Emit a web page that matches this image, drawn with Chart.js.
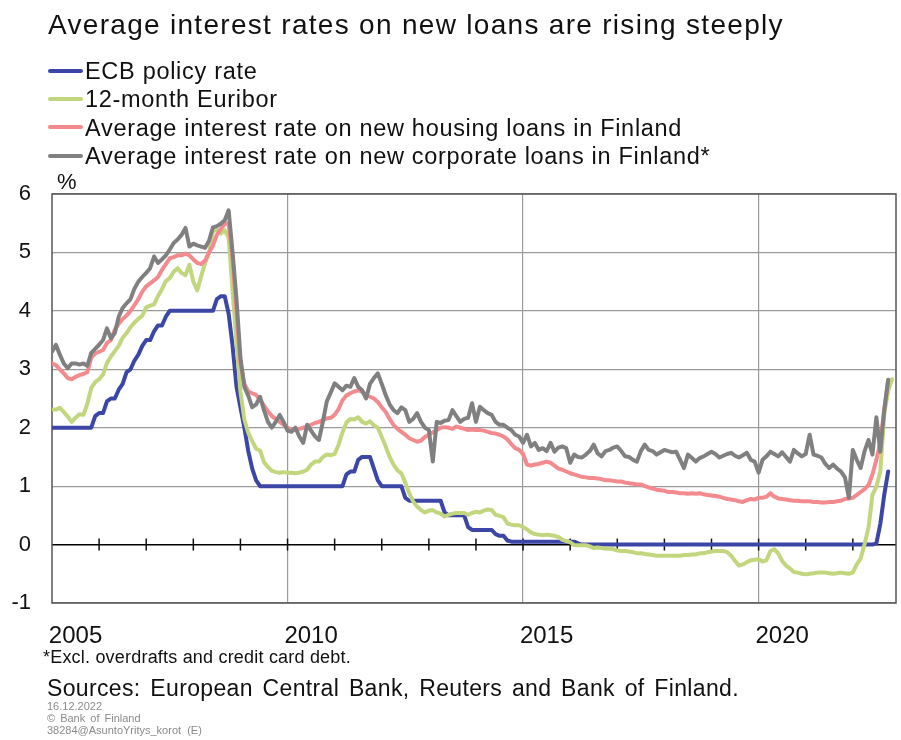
<!DOCTYPE html>
<html>
<head>
<meta charset="utf-8">
<script src="https://cdn.jsdelivr.net/npm/chart.js@4/dist/chart.umd.min.js"></script>
<style>
body { margin: 0; background: #fff; font-family: "Liberation Sans", Arial, sans-serif; color: #111; }
#wrap { position: relative; width: 901px; height: 740px; overflow: hidden; }
#box { position: absolute; left: 0; top: 0; width: 901px; height: 740px; }
.t { position: absolute; white-space: nowrap; line-height: 1; }
.key { position: absolute; left: 48px; width: 35px; height: 4px; border-radius: 2px; }
</style>
</head>
<body>
<div id="wrap">
  <div id="box"><canvas id="rates"></canvas></div>
  <div class="t" style="left:48px;top:11px;font-size:28px;letter-spacing:1.3px;">Average interest rates on new loans are rising steeply</div>
  <div id="legend"></div>
  <div class="t" style="left:57px;top:171px;font-size:22px;">%</div>
  <div class="t" style="left:43px;top:648px;font-size:18px;letter-spacing:0.2px;">*Excl. overdrafts and credit card debt.</div>
  <div class="t" style="left:47px;top:677px;font-size:23px;letter-spacing:0.35px;word-spacing:3px;">Sources: European Central Bank, Reuters and Bank of Finland.</div>
  <div class="t" style="left:47px;top:701px;font-size:11px;color:#8a8a8a;">16.12.2022</div>
  <div class="t" style="left:47px;top:713px;font-size:11px;color:#8a8a8a;word-spacing:2px;">© Bank of Finland</div>
  <div class="t" style="left:47px;top:725px;font-size:11px;color:#8a8a8a;word-spacing:3px;">38284@AsuntoYritys_korot (E)</div>
</div>
<script>
// monthly data, first month = January 2005
var startYear = 2005;
var seriesNames = ['ECB policy rate', '12-month Euribor',
    'Average interest rate on new housing loans in Finland',
    'Average interest rate on new corporate loans in Finland*'];
var seriesColors = ['#3c46a6', '#c2d67e', '#f28a8e', '#808080'];

var ecbRate = [
    2.0, 2.0, 2.0, 2.0, 2.0, 2.0, 2.0, 2.0, 2.0, 2.0, 2.0, 2.2,
    2.25, 2.25, 2.45, 2.5, 2.5, 2.65, 2.75, 2.95, 3.0, 3.15, 3.25, 3.4,
    3.5, 3.5, 3.65, 3.75, 3.75, 3.9, 4.0, 4.0, 4.0, 4.0, 4.0, 4.0,
    4.0, 4.0, 4.0, 4.0, 4.0, 4.0, 4.2, 4.25, 4.25, 3.95, 3.4, 2.7,
    2.35, 2.0, 1.6, 1.3, 1.1, 1.0, 1.0, 1.0, 1.0, 1.0, 1.0, 1.0,
    1.0, 1.0, 1.0, 1.0, 1.0, 1.0, 1.0, 1.0, 1.0, 1.0, 1.0, 1.0,
    1.0, 1.0, 1.0, 1.2, 1.25, 1.25, 1.45, 1.5, 1.5, 1.5, 1.3, 1.1,
    1.0, 1.0, 1.0, 1.0, 1.0, 1.0, 0.8, 0.75, 0.75, 0.75, 0.75, 0.75,
    0.75, 0.75, 0.75, 0.75, 0.55, 0.5, 0.5, 0.5, 0.5, 0.5, 0.3, 0.25,
    0.25, 0.25, 0.25, 0.25, 0.25, 0.18, 0.15, 0.15, 0.07, 0.05, 0.05, 0.05,
    0.05, 0.05, 0.05, 0.05, 0.05, 0.05, 0.05, 0.05, 0.05, 0.05, 0.05, 0.05,
    0.05, 0.05, 0.02, 0, 0, 0, 0, 0, 0, 0, 0, 0,
    0, 0, 0, 0, 0, 0, 0, 0, 0, 0, 0, 0,
    0, 0, 0, 0, 0, 0, 0, 0, 0, 0, 0, 0,
    0, 0, 0, 0, 0, 0, 0, 0, 0, 0, 0, 0,
    0, 0, 0, 0, 0, 0, 0, 0, 0, 0, 0, 0,
    0, 0, 0, 0, 0, 0, 0, 0, 0, 0, 0, 0,
    0, 0, 0, 0, 0, 0, 0.02, 0.35, 0.85, 1.25
];

var euribor12m = [
    2.31, 2.31, 2.34, 2.27, 2.19, 2.10, 2.17, 2.23, 2.22, 2.41, 2.68, 2.78,
    2.83, 2.91, 3.11, 3.22, 3.31, 3.40, 3.54, 3.62, 3.72, 3.80, 3.86, 3.92,
    4.06, 4.09, 4.11, 4.25, 4.37, 4.51, 4.56, 4.67, 4.73, 4.65, 4.61, 4.79,
    4.50, 4.35, 4.59, 4.82, 4.99, 5.36, 5.39, 5.32, 5.38, 5.25, 4.35, 3.45,
    2.62, 2.14, 1.91, 1.77, 1.64, 1.61, 1.41, 1.33, 1.26, 1.24, 1.23, 1.24,
    1.23, 1.23, 1.22, 1.23, 1.25, 1.28, 1.37, 1.42, 1.42, 1.50, 1.54, 1.53,
    1.55, 1.71, 1.92, 2.09, 2.15, 2.14, 2.18, 2.10, 2.07, 2.11, 2.04, 2.00,
    1.84, 1.68, 1.50, 1.37, 1.27, 1.22, 1.06, 0.88, 0.74, 0.65, 0.59, 0.55,
    0.58, 0.59, 0.55, 0.53, 0.48, 0.51, 0.53, 0.54, 0.54, 0.54, 0.51, 0.54,
    0.56, 0.55, 0.58, 0.60, 0.59, 0.51, 0.49, 0.47, 0.36, 0.34, 0.33, 0.33,
    0.30, 0.26, 0.21, 0.18, 0.17, 0.16, 0.17, 0.16, 0.15, 0.13, 0.08, 0.06,
    0.04, -0.01, -0.01, -0.01, -0.01, -0.03, -0.06, -0.05, -0.06, -0.07, -0.07, -0.08,
    -0.10, -0.11, -0.11, -0.12, -0.13, -0.15, -0.15, -0.16, -0.17, -0.18, -0.19, -0.19,
    -0.19, -0.19, -0.19, -0.19, -0.19, -0.18, -0.18, -0.17, -0.17, -0.15, -0.15, -0.13,
    -0.12, -0.11, -0.11, -0.11, -0.13, -0.19, -0.28, -0.36, -0.34, -0.30, -0.27, -0.26,
    -0.25, -0.29, -0.27, -0.11, -0.08, -0.15, -0.28, -0.36, -0.41, -0.47, -0.48, -0.50,
    -0.51, -0.50, -0.49, -0.48, -0.48, -0.48, -0.49, -0.50, -0.49, -0.48, -0.49, -0.50,
    -0.48, -0.34, -0.24, 0.01, 0.29, 0.85, 0.99, 1.25, 2.23, 2.63, 2.83
];

var housingRate = [
    3.1, 3.07, 3.0, 2.93, 2.85, 2.83, 2.87, 2.9, 2.92, 2.95, 3.2, 3.27,
    3.3, 3.33, 3.45, 3.5, 3.68, 3.78, 3.86, 3.92, 4.0, 4.1, 4.2, 4.33,
    4.42, 4.47, 4.52, 4.58, 4.7, 4.8, 4.9, 4.92, 4.95, 4.95, 4.98, 4.95,
    4.88, 4.82, 4.8, 4.86, 5.0, 5.12, 5.3, 5.4, 5.49, 5.5, 4.9, 4.0,
    3.1, 2.75, 2.62, 2.59, 2.56, 2.48, 2.38, 2.28, 2.2, 2.15, 2.1, 2.05,
    2.0, 1.97, 1.96, 1.98, 2.0, 2.02, 2.05, 2.08, 2.1, 2.13, 2.16, 2.17,
    2.22, 2.32, 2.47, 2.55, 2.59, 2.62, 2.64, 2.62, 2.56, 2.53, 2.5, 2.44,
    2.35, 2.27, 2.15, 2.05, 1.98, 1.93, 1.88, 1.82, 1.79, 1.76, 1.78, 1.84,
    1.88, 1.92, 1.96, 2.0, 2.01, 2.0, 1.98, 2.02, 2.0, 1.98, 1.96, 1.97,
    1.96, 1.96, 1.95, 1.93, 1.91, 1.9, 1.88, 1.85, 1.8, 1.72, 1.65, 1.62,
    1.55, 1.37, 1.35, 1.37, 1.38, 1.4, 1.42, 1.4, 1.35, 1.3, 1.28, 1.25,
    1.22, 1.2, 1.18, 1.16, 1.15, 1.14, 1.14, 1.13, 1.12, 1.1, 1.1, 1.09,
    1.08, 1.08, 1.06, 1.05, 1.04, 1.03, 1.03, 1.0, 0.98, 0.96, 0.94, 0.93,
    0.92, 0.9, 0.9, 0.89, 0.88, 0.88, 0.87, 0.88, 0.87, 0.88, 0.86, 0.85,
    0.84, 0.83, 0.82, 0.8, 0.78, 0.77, 0.76, 0.74, 0.73, 0.76, 0.78, 0.77,
    0.8, 0.8, 0.82, 0.88, 0.82, 0.79, 0.78, 0.77, 0.76, 0.75, 0.75, 0.74,
    0.74, 0.74, 0.73, 0.73, 0.72, 0.72, 0.73, 0.73, 0.74, 0.75, 0.78, 0.79,
    0.8, 0.85, 0.9, 0.95, 1.02, 1.2, 1.45, 1.75, 2.3, 2.8
];

var corporateRate = [
    3.3, 3.42, 3.25, 3.1, 3.02, 3.1, 3.1, 3.08, 3.1, 3.06, 3.28, 3.35,
    3.42, 3.5, 3.7, 3.53, 3.62, 3.9, 4.05, 4.13, 4.2, 4.38, 4.5, 4.58,
    4.65, 4.73, 4.93, 4.82, 4.88, 4.95, 5.05, 5.16, 5.22, 5.3, 5.42, 5.1,
    5.15, 5.12, 5.1, 5.08, 5.2, 5.43, 5.45, 5.49, 5.55, 5.72, 5.0, 4.2,
    3.2, 2.7, 2.55, 2.35, 2.4, 2.53, 2.3, 2.1, 2.0, 2.1, 2.22, 2.1,
    1.95, 1.93, 2.0, 1.85, 1.74, 2.05, 1.95, 1.85, 1.79, 2.1, 2.45, 2.6,
    2.76, 2.7, 2.64, 2.72, 2.7, 2.85, 2.7, 2.64, 2.5, 2.75, 2.85, 2.93,
    2.75, 2.56, 2.4, 2.3, 2.25, 2.35, 2.3, 2.1, 2.15, 2.25, 2.1, 2.0,
    1.96, 1.42, 2.1, 2.08, 2.12, 2.13, 2.3, 2.2, 2.1, 2.15, 2.17, 2.42,
    2.1, 2.36, 2.3, 2.25, 2.22, 2.1, 2.05, 2.05, 2.0, 1.96, 1.88, 1.85,
    1.74, 1.88, 1.68, 1.74, 1.62, 1.65, 1.6, 1.74, 1.59, 1.66, 1.68, 1.65,
    1.4, 1.54, 1.5, 1.49, 1.54, 1.6, 1.71, 1.56, 1.51, 1.6, 1.62, 1.66,
    1.68, 1.6, 1.51, 1.5, 1.45, 1.42, 1.6, 1.71, 1.62, 1.6, 1.54, 1.58,
    1.62, 1.6, 1.58, 1.59, 1.45, 1.31, 1.54, 1.48, 1.42, 1.48, 1.51, 1.55,
    1.59, 1.55, 1.49, 1.52, 1.55, 1.57, 1.52, 1.49, 1.53, 1.57, 1.45, 1.42,
    1.23, 1.45, 1.51, 1.59, 1.55, 1.51, 1.58, 1.5, 1.42, 1.62, 1.56, 1.51,
    1.55, 1.88, 1.54, 1.52, 1.49, 1.38, 1.31, 1.37, 1.3, 1.25, 1.15, 0.8,
    1.62, 1.45, 1.31, 1.6, 1.79, 1.54, 2.18, 1.59, 2.3, 2.82
];

var gridYears = [2010, 2015, 2020];
var labelYears = [2005, 2010, 2015, 2020];
var yTicks = [-1, 0, 1, 2, 3, 4, 5, 6];

function monthly(values) {
    return values.map(function (v, i) { return { x: startYear + i / 12, y: v }; });
}

// legend as HTML rows, one per series
var legendRows = document.getElementById('legend');
var baselines = [80, 108.3, 136.7, 165];
seriesNames.forEach(function (name, i) {
    var key = document.createElement('div');
    key.className = 'key';
    key.style.top = (baselines[i] - 11.3) + 'px';
    key.style.background = seriesColors[i];
    legendRows.appendChild(key);
    var txt = document.createElement('div');
    txt.className = 't';
    txt.style.cssText = 'left:85px;font-size:23.5px;letter-spacing:0.7px;top:' + (baselines[i] - 19.9) + 'px';
    txt.textContent = name;
    legendRows.appendChild(txt);
});

var frame = {
    id: 'frame',
    beforeDatasetsDraw: function (chart) {
        var ctx = chart.ctx, a = chart.chartArea;
        var x = chart.scales.x, y = chart.scales.y;
        var y0 = y.getPixelForValue(0);
        ctx.save();
        ctx.strokeStyle = '#111';
        ctx.lineWidth = 1.5;
        for (var yr = startYear + 1; yr < x.max; yr++) {
            var px = x.getPixelForValue(yr);
            ctx.beginPath();
            ctx.moveTo(px, y0 - 6);
            ctx.lineTo(px, y0 + 6);
            ctx.stroke();
        }
        ctx.strokeStyle = '#555';
        ctx.strokeRect(a.left, a.top, a.right - a.left, a.bottom - a.top);
        ctx.restore();
    }
};

var allSeries = [ecbRate, euribor12m, housingRate, corporateRate];
var ctx = document.getElementById('rates').getContext('2d');
var chart = new Chart(ctx, {
    type: 'line',
    data: {
        datasets: allSeries.map(function (vals, i) {
            return {
                label: seriesNames[i],
                data: monthly(vals),
                borderColor: seriesColors[i],
                borderWidth: 4,
                order: 3 - i
            };
        })
    },
    options: {
        responsive: true,
        maintainAspectRatio: false,
        animation: false,
        layout: { padding: { top: 194, right: 5, left: 0, bottom: 0 } },
        elements: {
            point: { radius: 0 },
            line: { tension: 0, borderJoinStyle: 'round', borderCapStyle: 'round' }
        },
        plugins: { legend: { display: false }, tooltip: { enabled: false } },
        scales: {
            x: {
                type: 'linear',
                min: startYear,
                max: startYear + 215 / 12,
                afterFit: function (s) { s.height = 137; },
                afterBuildTicks: function (s) {
                    var t = gridYears.concat(labelYears.map(function (v) { return v + 0.5; }));
                    t.sort(function (a, b) { return a - b; });
                    s.ticks = t.map(function (v) { return { value: v }; });
                },
                border: { display: false },
                grid: {
                    drawTicks: false,
                    color: function (c) { return Number.isInteger(c.tick.value) ? '#9a9a9a' : 'rgba(0,0,0,0)'; },
                    lineWidth: 1.2
                },
                ticks: {
                    autoSkip: false,
                    maxRotation: 0,
                    padding: 19,
                    color: '#111',
                    font: { family: 'Liberation Sans', size: 24 },
                    callback: function (v) { return Number.isInteger(v) ? '' : String(Math.floor(v)); }
                }
            },
            y: {
                min: -1,
                max: 6,
                afterFit: function (s) { s.width = 52; },
                afterBuildTicks: function (s) {
                    s.ticks = yTicks.map(function (v) { return { value: v }; });
                },
                border: { display: false },
                grid: {
                    drawTicks: false,
                    color: function (c) { return c.tick.value === 0 ? '#000' : '#9a9a9a'; },
                    lineWidth: function (c) { return c.tick.value === 0 ? 1.6 : 1.2; }
                },
                ticks: {
                    padding: 21,
                    color: '#111',
                    font: { family: 'Liberation Sans', size: 22 }
                }
            }
        }
    },
    plugins: [frame]
});
</script>
</body>
</html>
